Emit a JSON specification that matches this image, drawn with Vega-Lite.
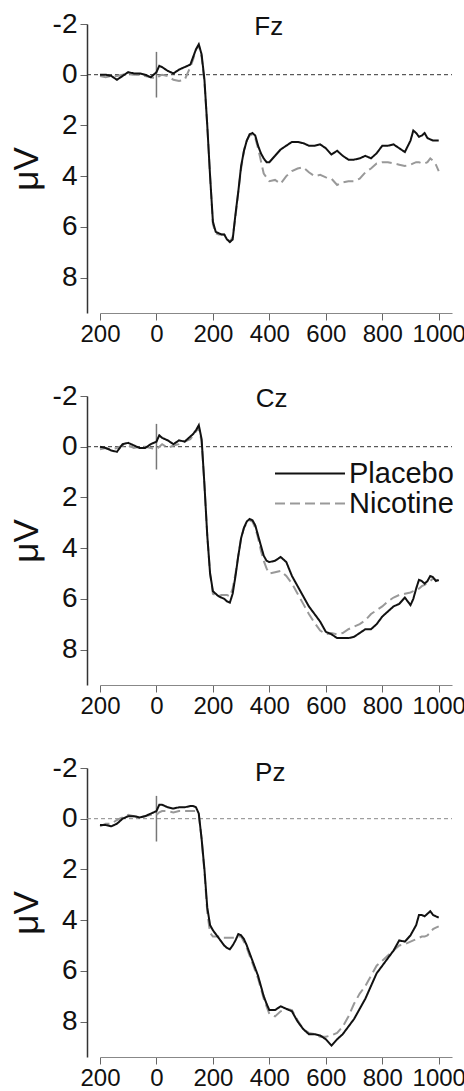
{
"$schema":"https://vega.github.io/schema/vega-lite/v6.json",
"padding":{"left":9,"top":10,"right":0,"bottom":0},
"background":"white",
"config":{"view":{"stroke":null},"font":"Liberation Sans",
"axis":{"labelFont":"Liberation Sans","labelColor":"#111","titleFont":"Liberation Sans","grid":false,"labelOverlap":false,"labelFlush":false,"tickSize":7,"tickColor":"#666","tickWidth":1},
"axisX":{"domainColor":"#888","domainWidth":1.2,"labelFontSize":24,"labelPadding":2},
"axisY":{"domainColor":"#333","domainWidth":1.5,"labelFontSize":28,"labelPadding":3,"offset":13,"titleFontSize":35,"titleFontWeight":"normal","titleColor":"#111","titlePadding":8}},
"spacing":36,
"resolve":{"scale":{"color":"independent","strokeDash":"independent"}},
"datasets":{"erp":[
{"e":"Fz","t":-200,"Placebo":0.0,"Nicotine":0.05},{"e":"Fz","t":-180,"Placebo":0.0,"Nicotine":0.1},{"e":"Fz","t":-160,"Placebo":0.05,"Nicotine":0.05},{"e":"Fz","t":-140,"Placebo":0.2,"Nicotine":0.05},{"e":"Fz","t":-120,"Placebo":0.05,"Nicotine":0.0},{"e":"Fz","t":-100,"Placebo":-0.1,"Nicotine":-0.05},{"e":"Fz","t":-80,"Placebo":-0.05,"Nicotine":0.0},{"e":"Fz","t":-60,"Placebo":-0.05,"Nicotine":0.0},{"e":"Fz","t":-40,"Placebo":0.0,"Nicotine":0.05},{"e":"Fz","t":-20,"Placebo":0.1,"Nicotine":0.1},
{"e":"Fz","t":0,"Placebo":-0.1,"Nicotine":0.15},{"e":"Fz","t":10,"Placebo":-0.35,"Nicotine":0.05},{"e":"Fz","t":20,"Placebo":-0.3,"Nicotine":0.0},{"e":"Fz","t":40,"Placebo":-0.15,"Nicotine":0.05},{"e":"Fz","t":60,"Placebo":-0.05,"Nicotine":0.2},{"e":"Fz","t":80,"Placebo":-0.2,"Nicotine":0.25},{"e":"Fz","t":100,"Placebo":-0.3,"Nicotine":0.2},{"e":"Fz","t":120,"Placebo":-0.4,"Nicotine":-0.3},{"e":"Fz","t":130,"Placebo":-0.7,"Nicotine":-0.6},{"e":"Fz","t":140,"Placebo":-1.0,"Nicotine":-1.0},
{"e":"Fz","t":150,"Placebo":-1.2,"Nicotine":-1.15},{"e":"Fz","t":160,"Placebo":-0.8,"Nicotine":-0.7},{"e":"Fz","t":170,"Placebo":0.2,"Nicotine":0.3},{"e":"Fz","t":180,"Placebo":2.0,"Nicotine":2.0},{"e":"Fz","t":190,"Placebo":4.0,"Nicotine":4.0},{"e":"Fz","t":200,"Placebo":5.8,"Nicotine":5.9},{"e":"Fz","t":210,"Placebo":6.2,"Nicotine":6.25},{"e":"Fz","t":220,"Placebo":6.25,"Nicotine":6.3},{"e":"Fz","t":230,"Placebo":6.3,"Nicotine":6.3},{"e":"Fz","t":240,"Placebo":6.3,"Nicotine":6.3},
{"e":"Fz","t":250,"Placebo":6.5,"Nicotine":6.45},{"e":"Fz","t":260,"Placebo":6.6,"Nicotine":6.6},{"e":"Fz","t":270,"Placebo":6.5,"Nicotine":6.4},{"e":"Fz","t":280,"Placebo":5.5,"Nicotine":5.6},{"e":"Fz","t":290,"Placebo":4.6,"Nicotine":4.6},{"e":"Fz","t":300,"Placebo":3.6,"Nicotine":3.7},{"e":"Fz","t":310,"Placebo":3.0,"Nicotine":3.0},{"e":"Fz","t":320,"Placebo":2.6,"Nicotine":2.6},{"e":"Fz","t":330,"Placebo":2.35,"Nicotine":2.4},{"e":"Fz","t":340,"Placebo":2.3,"Nicotine":2.35},
{"e":"Fz","t":350,"Placebo":2.4,"Nicotine":2.5},{"e":"Fz","t":360,"Placebo":2.8,"Nicotine":2.9},{"e":"Fz","t":370,"Placebo":3.1,"Nicotine":3.4},{"e":"Fz","t":380,"Placebo":3.3,"Nicotine":3.9},{"e":"Fz","t":390,"Placebo":3.45,"Nicotine":4.05},{"e":"Fz","t":400,"Placebo":3.45,"Nicotine":4.2},{"e":"Fz","t":420,"Placebo":3.2,"Nicotine":4.15},{"e":"Fz","t":440,"Placebo":2.95,"Nicotine":4.3},{"e":"Fz","t":460,"Placebo":2.8,"Nicotine":4.0},{"e":"Fz","t":480,"Placebo":2.65,"Nicotine":3.8},
{"e":"Fz","t":500,"Placebo":2.65,"Nicotine":3.7},{"e":"Fz","t":520,"Placebo":2.7,"Nicotine":3.65},{"e":"Fz","t":540,"Placebo":2.8,"Nicotine":3.85},{"e":"Fz","t":560,"Placebo":2.8,"Nicotine":4.0},{"e":"Fz","t":580,"Placebo":2.75,"Nicotine":3.95},{"e":"Fz","t":600,"Placebo":2.9,"Nicotine":4.05},{"e":"Fz","t":620,"Placebo":3.15,"Nicotine":4.1},{"e":"Fz","t":640,"Placebo":3.0,"Nicotine":4.35},{"e":"Fz","t":660,"Placebo":3.2,"Nicotine":4.25},{"e":"Fz","t":680,"Placebo":3.35,"Nicotine":4.2},
{"e":"Fz","t":700,"Placebo":3.35,"Nicotine":4.2},{"e":"Fz","t":720,"Placebo":3.3,"Nicotine":4.1},{"e":"Fz","t":740,"Placebo":3.2,"Nicotine":3.85},{"e":"Fz","t":760,"Placebo":3.3,"Nicotine":3.7},{"e":"Fz","t":780,"Placebo":3.1,"Nicotine":3.5},{"e":"Fz","t":800,"Placebo":2.8,"Nicotine":3.45},{"e":"Fz","t":820,"Placebo":2.8,"Nicotine":3.45},{"e":"Fz","t":840,"Placebo":2.75,"Nicotine":3.5},{"e":"Fz","t":860,"Placebo":2.9,"Nicotine":3.55},{"e":"Fz","t":880,"Placebo":3.05,"Nicotine":3.6},
{"e":"Fz","t":900,"Placebo":2.6,"Nicotine":3.55},{"e":"Fz","t":910,"Placebo":2.2,"Nicotine":3.5},{"e":"Fz","t":920,"Placebo":2.3,"Nicotine":3.45},{"e":"Fz","t":930,"Placebo":2.45,"Nicotine":3.45},{"e":"Fz","t":940,"Placebo":2.4,"Nicotine":3.5},{"e":"Fz","t":950,"Placebo":2.3,"Nicotine":3.5},{"e":"Fz","t":960,"Placebo":2.5,"Nicotine":3.45},{"e":"Fz","t":970,"Placebo":2.55,"Nicotine":3.3},{"e":"Fz","t":980,"Placebo":2.6,"Nicotine":3.4},{"e":"Fz","t":990,"Placebo":2.6,"Nicotine":3.55},{"e":"Fz","t":1000,"Placebo":2.6,"Nicotine":3.8},
{"e":"Cz","t":-200,"Placebo":0.0,"Nicotine":0.1},{"e":"Cz","t":-180,"Placebo":0.05,"Nicotine":0.05},{"e":"Cz","t":-160,"Placebo":0.15,"Nicotine":0.1},{"e":"Cz","t":-140,"Placebo":0.2,"Nicotine":0.05},{"e":"Cz","t":-120,"Placebo":-0.1,"Nicotine":-0.05},{"e":"Cz","t":-100,"Placebo":-0.15,"Nicotine":-0.05},{"e":"Cz","t":-80,"Placebo":-0.05,"Nicotine":0.05},{"e":"Cz","t":-60,"Placebo":0.05,"Nicotine":0.0},{"e":"Cz","t":-40,"Placebo":0.05,"Nicotine":0.0},{"e":"Cz","t":-20,"Placebo":-0.1,"Nicotine":0.05},
{"e":"Cz","t":0,"Placebo":-0.2,"Nicotine":0.1},{"e":"Cz","t":10,"Placebo":-0.45,"Nicotine":0.0},{"e":"Cz","t":20,"Placebo":-0.35,"Nicotine":-0.1},{"e":"Cz","t":40,"Placebo":-0.25,"Nicotine":0.05},{"e":"Cz","t":60,"Placebo":-0.1,"Nicotine":-0.05},{"e":"Cz","t":80,"Placebo":-0.25,"Nicotine":-0.1},{"e":"Cz","t":100,"Placebo":-0.2,"Nicotine":-0.2},{"e":"Cz","t":120,"Placebo":-0.4,"Nicotine":-0.3},{"e":"Cz","t":130,"Placebo":-0.5,"Nicotine":-0.45},{"e":"Cz","t":140,"Placebo":-0.65,"Nicotine":-0.6},
{"e":"Cz","t":150,"Placebo":-0.85,"Nicotine":-0.75},{"e":"Cz","t":160,"Placebo":-0.3,"Nicotine":-0.2},{"e":"Cz","t":170,"Placebo":1.5,"Nicotine":1.5},{"e":"Cz","t":180,"Placebo":3.5,"Nicotine":3.5},{"e":"Cz","t":190,"Placebo":5.0,"Nicotine":5.0},{"e":"Cz","t":200,"Placebo":5.7,"Nicotine":5.8},{"e":"Cz","t":210,"Placebo":5.8,"Nicotine":5.85},{"e":"Cz","t":220,"Placebo":5.9,"Nicotine":5.9},{"e":"Cz","t":230,"Placebo":5.95,"Nicotine":5.85},{"e":"Cz","t":240,"Placebo":6.0,"Nicotine":5.85},
{"e":"Cz","t":250,"Placebo":6.1,"Nicotine":5.85},{"e":"Cz","t":260,"Placebo":6.15,"Nicotine":5.9},{"e":"Cz","t":270,"Placebo":5.8,"Nicotine":5.6},{"e":"Cz","t":280,"Placebo":5.1,"Nicotine":5.0},{"e":"Cz","t":290,"Placebo":4.3,"Nicotine":4.3},{"e":"Cz","t":300,"Placebo":3.6,"Nicotine":3.6},{"e":"Cz","t":310,"Placebo":3.2,"Nicotine":3.2},{"e":"Cz","t":320,"Placebo":2.95,"Nicotine":3.0},{"e":"Cz","t":330,"Placebo":2.85,"Nicotine":2.9},{"e":"Cz","t":340,"Placebo":2.9,"Nicotine":2.95},
{"e":"Cz","t":350,"Placebo":3.1,"Nicotine":3.2},{"e":"Cz","t":360,"Placebo":3.5,"Nicotine":3.6},{"e":"Cz","t":370,"Placebo":3.9,"Nicotine":4.1},{"e":"Cz","t":380,"Placebo":4.3,"Nicotine":4.5},{"e":"Cz","t":390,"Placebo":4.5,"Nicotine":4.8},{"e":"Cz","t":400,"Placebo":4.55,"Nicotine":5.0},{"e":"Cz","t":420,"Placebo":4.5,"Nicotine":4.95},{"e":"Cz","t":440,"Placebo":4.35,"Nicotine":4.9},{"e":"Cz","t":460,"Placebo":4.55,"Nicotine":5.1},{"e":"Cz","t":480,"Placebo":5.1,"Nicotine":5.4},
{"e":"Cz","t":500,"Placebo":5.5,"Nicotine":5.8},{"e":"Cz","t":520,"Placebo":5.9,"Nicotine":6.2},{"e":"Cz","t":540,"Placebo":6.3,"Nicotine":6.6},{"e":"Cz","t":560,"Placebo":6.6,"Nicotine":6.95},{"e":"Cz","t":580,"Placebo":6.9,"Nicotine":7.25},{"e":"Cz","t":600,"Placebo":7.3,"Nicotine":7.4},{"e":"Cz","t":620,"Placebo":7.4,"Nicotine":7.35},{"e":"Cz","t":640,"Placebo":7.55,"Nicotine":7.4},{"e":"Cz","t":660,"Placebo":7.55,"Nicotine":7.35},{"e":"Cz","t":680,"Placebo":7.55,"Nicotine":7.2},
{"e":"Cz","t":700,"Placebo":7.5,"Nicotine":7.1},{"e":"Cz","t":720,"Placebo":7.35,"Nicotine":7.0},{"e":"Cz","t":740,"Placebo":7.2,"Nicotine":6.85},{"e":"Cz","t":760,"Placebo":7.2,"Nicotine":6.6},{"e":"Cz","t":780,"Placebo":7.0,"Nicotine":6.45},{"e":"Cz","t":800,"Placebo":6.7,"Nicotine":6.3},{"e":"Cz","t":820,"Placebo":6.5,"Nicotine":6.1},{"e":"Cz","t":840,"Placebo":6.3,"Nicotine":5.95},{"e":"Cz","t":860,"Placebo":6.2,"Nicotine":5.85},{"e":"Cz","t":880,"Placebo":5.95,"Nicotine":5.8},
{"e":"Cz","t":900,"Placebo":6.25,"Nicotine":5.75},{"e":"Cz","t":910,"Placebo":6.0,"Nicotine":5.7},{"e":"Cz","t":920,"Placebo":5.6,"Nicotine":5.65},{"e":"Cz","t":930,"Placebo":5.25,"Nicotine":5.6},{"e":"Cz","t":940,"Placebo":5.3,"Nicotine":5.5},{"e":"Cz","t":950,"Placebo":5.4,"Nicotine":5.45},{"e":"Cz","t":960,"Placebo":5.3,"Nicotine":5.35},{"e":"Cz","t":970,"Placebo":5.1,"Nicotine":5.3},{"e":"Cz","t":980,"Placebo":5.15,"Nicotine":5.2},{"e":"Cz","t":990,"Placebo":5.3,"Nicotine":5.25},{"e":"Cz","t":1000,"Placebo":5.25,"Nicotine":5.3},
{"e":"Pz","t":-200,"Placebo":0.25,"Nicotine":0.3},{"e":"Pz","t":-180,"Placebo":0.25,"Nicotine":0.2},{"e":"Pz","t":-160,"Placebo":0.3,"Nicotine":0.2},{"e":"Pz","t":-140,"Placebo":0.2,"Nicotine":0.05},{"e":"Pz","t":-120,"Placebo":0.0,"Nicotine":-0.05},{"e":"Pz","t":-100,"Placebo":-0.1,"Nicotine":-0.15},{"e":"Pz","t":-80,"Placebo":-0.1,"Nicotine":-0.1},{"e":"Pz","t":-60,"Placebo":-0.05,"Nicotine":-0.05},{"e":"Pz","t":-40,"Placebo":-0.1,"Nicotine":-0.1},{"e":"Pz","t":-20,"Placebo":-0.2,"Nicotine":-0.15},
{"e":"Pz","t":0,"Placebo":-0.3,"Nicotine":-0.15},{"e":"Pz","t":10,"Placebo":-0.55,"Nicotine":-0.25},{"e":"Pz","t":20,"Placebo":-0.55,"Nicotine":-0.3},{"e":"Pz","t":40,"Placebo":-0.45,"Nicotine":-0.3},{"e":"Pz","t":60,"Placebo":-0.4,"Nicotine":-0.25},{"e":"Pz","t":80,"Placebo":-0.45,"Nicotine":-0.3},{"e":"Pz","t":100,"Placebo":-0.45,"Nicotine":-0.3},{"e":"Pz","t":120,"Placebo":-0.5,"Nicotine":-0.3},{"e":"Pz","t":130,"Placebo":-0.5,"Nicotine":-0.3},{"e":"Pz","t":140,"Placebo":-0.45,"Nicotine":-0.3},
{"e":"Pz","t":150,"Placebo":-0.2,"Nicotine":-0.15},{"e":"Pz","t":160,"Placebo":0.8,"Nicotine":0.8},{"e":"Pz","t":170,"Placebo":2.0,"Nicotine":2.1},{"e":"Pz","t":180,"Placebo":3.5,"Nicotine":3.7},{"e":"Pz","t":190,"Placebo":4.2,"Nicotine":4.5},{"e":"Pz","t":200,"Placebo":4.4,"Nicotine":4.65},{"e":"Pz","t":210,"Placebo":4.55,"Nicotine":4.65},{"e":"Pz","t":220,"Placebo":4.7,"Nicotine":4.65},{"e":"Pz","t":230,"Placebo":4.85,"Nicotine":4.7},{"e":"Pz","t":240,"Placebo":5.0,"Nicotine":4.7},
{"e":"Pz","t":250,"Placebo":5.1,"Nicotine":4.7},{"e":"Pz","t":260,"Placebo":5.15,"Nicotine":4.7},{"e":"Pz","t":270,"Placebo":5.0,"Nicotine":4.7},{"e":"Pz","t":280,"Placebo":4.8,"Nicotine":4.7},{"e":"Pz","t":290,"Placebo":4.55,"Nicotine":4.65},{"e":"Pz","t":300,"Placebo":4.6,"Nicotine":4.65},{"e":"Pz","t":310,"Placebo":4.75,"Nicotine":4.85},{"e":"Pz","t":320,"Placebo":5.0,"Nicotine":5.1},{"e":"Pz","t":330,"Placebo":5.3,"Nicotine":5.4},{"e":"Pz","t":340,"Placebo":5.6,"Nicotine":5.7},
{"e":"Pz","t":350,"Placebo":5.9,"Nicotine":6.0},{"e":"Pz","t":360,"Placebo":6.2,"Nicotine":6.3},{"e":"Pz","t":370,"Placebo":6.6,"Nicotine":6.7},{"e":"Pz","t":380,"Placebo":7.0,"Nicotine":7.1},{"e":"Pz","t":390,"Placebo":7.3,"Nicotine":7.4},{"e":"Pz","t":400,"Placebo":7.55,"Nicotine":7.7},{"e":"Pz","t":420,"Placebo":7.55,"Nicotine":7.8},{"e":"Pz","t":440,"Placebo":7.4,"Nicotine":7.6},{"e":"Pz","t":460,"Placebo":7.5,"Nicotine":7.5},{"e":"Pz","t":480,"Placebo":7.6,"Nicotine":7.55},
{"e":"Pz","t":500,"Placebo":8.0,"Nicotine":7.95},{"e":"Pz","t":520,"Placebo":8.3,"Nicotine":8.3},{"e":"Pz","t":540,"Placebo":8.5,"Nicotine":8.45},{"e":"Pz","t":560,"Placebo":8.5,"Nicotine":8.5},{"e":"Pz","t":580,"Placebo":8.55,"Nicotine":8.6},{"e":"Pz","t":600,"Placebo":8.7,"Nicotine":8.6},{"e":"Pz","t":620,"Placebo":8.95,"Nicotine":8.55},{"e":"Pz","t":640,"Placebo":8.7,"Nicotine":8.45},{"e":"Pz","t":660,"Placebo":8.5,"Nicotine":8.2},{"e":"Pz","t":680,"Placebo":8.2,"Nicotine":7.8},
{"e":"Pz","t":700,"Placebo":7.9,"Nicotine":7.3},{"e":"Pz","t":720,"Placebo":7.5,"Nicotine":6.9},{"e":"Pz","t":740,"Placebo":7.1,"Nicotine":6.6},{"e":"Pz","t":760,"Placebo":6.6,"Nicotine":6.2},{"e":"Pz","t":780,"Placebo":6.1,"Nicotine":5.8},{"e":"Pz","t":800,"Placebo":5.8,"Nicotine":5.6},{"e":"Pz","t":820,"Placebo":5.5,"Nicotine":5.4},{"e":"Pz","t":840,"Placebo":5.2,"Nicotine":5.2},{"e":"Pz","t":860,"Placebo":4.8,"Nicotine":5.0},{"e":"Pz","t":880,"Placebo":4.85,"Nicotine":4.95},
{"e":"Pz","t":900,"Placebo":4.6,"Nicotine":4.85},{"e":"Pz","t":910,"Placebo":4.4,"Nicotine":4.8},{"e":"Pz","t":920,"Placebo":4.2,"Nicotine":4.75},{"e":"Pz","t":930,"Placebo":3.8,"Nicotine":4.7},{"e":"Pz","t":940,"Placebo":3.8,"Nicotine":4.65},{"e":"Pz","t":950,"Placebo":3.85,"Nicotine":4.65},{"e":"Pz","t":960,"Placebo":3.75,"Nicotine":4.6},{"e":"Pz","t":970,"Placebo":3.65,"Nicotine":4.5},{"e":"Pz","t":980,"Placebo":3.8,"Nicotine":4.35},{"e":"Pz","t":990,"Placebo":3.85,"Nicotine":4.3},{"e":"Pz","t":1000,"Placebo":3.9,"Nicotine":4.25}
]},
"vconcat":[
{"width":352,"height":289,
"layer":[
{"data":{"values":[{}]},"mark":{"type":"rule","strokeDash":[4,3],"color":"#333","strokeWidth":1},"encoding":{"x":{"datum":-246,"type":"quantitative","scale":{"domain":[-200,1047],"nice":false,"zero":false}},"x2":{"datum":1047},"y":{"datum":0,"type":"quantitative","scale":{"domain":[-2,9.4],"reverse":true,"nice":false,"zero":false}}}},
{"data":{"values":[{}]},"mark":{"type":"rule","color":"#777","strokeWidth":1.5},"encoding":{"x":{"datum":0,"type":"quantitative"},"y":{"datum":-0.9,"type":"quantitative"},"y2":{"datum":0.9}}},
{"data":{"values":[{"label":"Fz"}]},"mark":{"type":"text","fontSize":26,"font":"Liberation Sans","color":"#111","baseline":"alphabetic","align":"center"},"encoding":{"x":{"datum":398,"type":"quantitative"},"y":{"datum":-1.57,"type":"quantitative"},"text":{"field":"label"}}},
{"data":{"name":"erp"},"transform":[{"filter":"datum.e == 'Fz'"},{"fold":["Nicotine","Placebo"],"as":["cond","v"]}],
"mark":{"type":"line","strokeWidth":2},
"encoding":{"x":{"field":"t","type":"quantitative","axis":{"values":[-200,0,200,400,600,800,1000],"labelExpr":"format(abs(datum.value),'d')","title":null}},
"y":{"field":"v","type":"quantitative","axis":{"values":[-2,0,2,4,6,8],"labelExpr":"datum.value < 0 ? '-' + abs(datum.value) : '' + datum.value","title":"μV"}},
"color":{"field":"cond","type":"nominal","scale":{"domain":["Placebo","Nicotine"],"range":["#111111","#999999"]},"legend":null},
"strokeDash":{"field":"cond","type":"nominal","scale":{"domain":["Placebo","Nicotine"],"range":[[1,0],[10,5]]},"legend":null}}}
]},
{"width":352,"height":289,
"layer":[
{"data":{"values":[{}]},"mark":{"type":"rule","strokeDash":[4,3],"color":"#333","strokeWidth":1},"encoding":{"x":{"datum":-246,"type":"quantitative","scale":{"domain":[-200,1047],"nice":false,"zero":false}},"x2":{"datum":1047},"y":{"datum":0,"type":"quantitative","scale":{"domain":[-2,9.4],"reverse":true,"nice":false,"zero":false}}}},
{"data":{"values":[{}]},"mark":{"type":"rule","color":"#777","strokeWidth":1.5},"encoding":{"x":{"datum":0,"type":"quantitative"},"y":{"datum":-0.9,"type":"quantitative"},"y2":{"datum":0.9}}},
{"data":{"values":[{"label":"Cz"}]},"mark":{"type":"text","fontSize":26,"font":"Liberation Sans","color":"#111","baseline":"alphabetic","align":"center"},"encoding":{"x":{"datum":408,"type":"quantitative"},"y":{"datum":-1.57,"type":"quantitative"},"text":{"field":"label"}}},
{"data":{"name":"erp"},"transform":[{"filter":"datum.e == 'Cz'"},{"fold":["Nicotine","Placebo"],"as":["cond","v"]}],
"mark":{"type":"line","strokeWidth":2},
"encoding":{"x":{"field":"t","type":"quantitative","axis":{"values":[-200,0,200,400,600,800,1000],"labelExpr":"format(abs(datum.value),'d')","title":null}},
"y":{"field":"v","type":"quantitative","axis":{"values":[-2,0,2,4,6,8],"labelExpr":"datum.value < 0 ? '-' + abs(datum.value) : '' + datum.value","title":"μV"}},
"color":{"field":"cond","type":"nominal","scale":{"domain":["Placebo","Nicotine"],"range":["#111111","#999999"]},"legend":{"title":null,"orient":"none","legendX":174,"legendY":65,"symbolType":"stroke","symbolSize":4900,"symbolStrokeWidth":2,"labelFontSize":29,"labelFont":"Liberation Sans","labelColor":"#111","labelOffset":3,"clipHeight":25,"rowPadding":0,"padding":0}},
"strokeDash":{"field":"cond","type":"nominal","scale":{"domain":["Placebo","Nicotine"],"range":[[1,0],[10,5]]}}}}
]},
{"width":352,"height":289,
"layer":[
{"data":{"values":[{}]},"mark":{"type":"rule","strokeDash":[4,3],"color":"#888","strokeWidth":1},"encoding":{"x":{"datum":-246,"type":"quantitative","scale":{"domain":[-200,1047],"nice":false,"zero":false}},"x2":{"datum":1047},"y":{"datum":0,"type":"quantitative","scale":{"domain":[-2,9.4],"reverse":true,"nice":false,"zero":false}}}},
{"data":{"values":[{}]},"mark":{"type":"rule","color":"#777","strokeWidth":1.5},"encoding":{"x":{"datum":0,"type":"quantitative"},"y":{"datum":-0.9,"type":"quantitative"},"y2":{"datum":0.9}}},
{"data":{"values":[{"label":"Pz"}]},"mark":{"type":"text","fontSize":26,"font":"Liberation Sans","color":"#111","baseline":"alphabetic","align":"center"},"encoding":{"x":{"datum":403,"type":"quantitative"},"y":{"datum":-1.5,"type":"quantitative"},"text":{"field":"label"}}},
{"data":{"name":"erp"},"transform":[{"filter":"datum.e == 'Pz'"},{"fold":["Nicotine","Placebo"],"as":["cond","v"]}],
"mark":{"type":"line","strokeWidth":2},
"encoding":{"x":{"field":"t","type":"quantitative","axis":{"values":[-200,0,200,400,600,800,1000],"labelExpr":"format(abs(datum.value),'d')","title":null}},
"y":{"field":"v","type":"quantitative","axis":{"values":[-2,0,2,4,6,8],"labelExpr":"datum.value < 0 ? '-' + abs(datum.value) : '' + datum.value","title":"μV"}},
"color":{"field":"cond","type":"nominal","scale":{"domain":["Placebo","Nicotine"],"range":["#111111","#999999"]},"legend":null},
"strokeDash":{"field":"cond","type":"nominal","scale":{"domain":["Placebo","Nicotine"],"range":[[1,0],[10,5]]},"legend":null}}}
]}
]}
